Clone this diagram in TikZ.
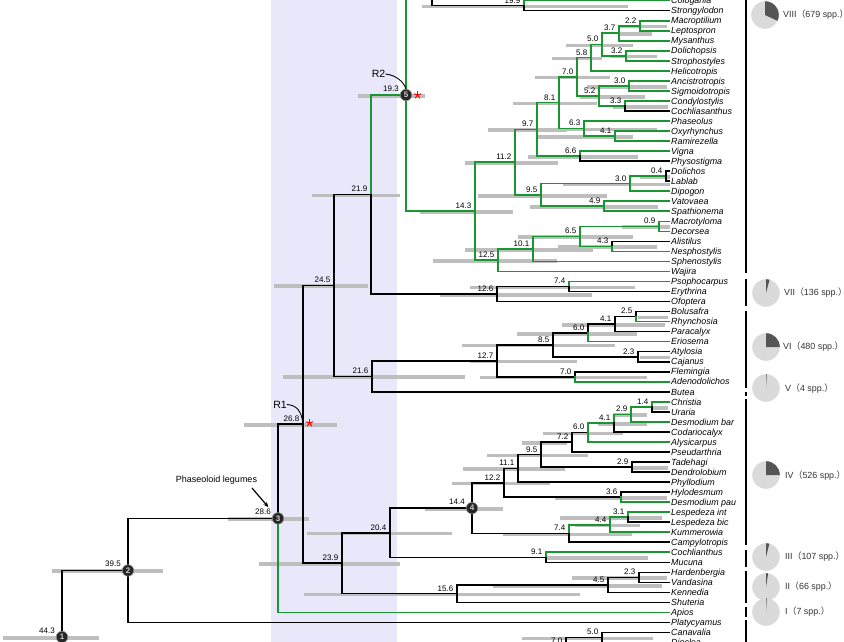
\documentclass[tikz,border=0pt]{standalone}
\usepackage{fontspec}
\setmainfont{Liberation Sans}
\newfontfamily\cjkfont{Noto Sans CJK SC}
\usetikzlibrary{arrows.meta}
\definecolor{gbr}{RGB}{25,150,50}
\definecolor{barg}{RGB}{190,190,190}
\definecolor{bandc}{RGB}{232,232,250}
\definecolor{pielight}{RGB}{218,218,218}
\definecolor{piedark}{RGB}{85,85,85}
\newcommand{\tyy}[1]{20.7+10.03*(#1)}
\newcommand{\tipnode}[3]{\coordinate (t#1) at (669,{\tyy{#2}});\node[tip] (l#1) at (671,{\tyy{#2}}) {#3};}
\newcommand{\inode}[3]{\coordinate (#1) at (#2,{\tyy{#3}});}
\newcommand{\eb}[2]{\draw[bk] (#1) |- (#2);}
\newcommand{\eg}[2]{\draw[gn] (#1) |- (#2);}
\newcommand{\cib}[3]{\draw[cibar] (#1,#3) -- (#2,#3);}
\newcommand{\mypie}[4]{%
  \coordinate (#1) at (#2,#3);
  \fill[pielight] (#1) circle[radius=13.8];
  \fill[piedark] (#1) -- ++(-90:13.8) arc[start angle=-90, delta angle=#4, radius=13.8] -- cycle;}
\begin{document}
\begin{tikzpicture}[x=1pt,y=-1pt,
  bk/.style={line width=1.6pt,black,line cap=rect},
  gn/.style={line width=1.6pt,gbr,line cap=rect},
  cibar/.style={line width=3.6pt,barg},
  tip/.style={anchor=base west,inner sep=0pt,yshift=-3.2pt,font=\fontsize{8.9}{10}\selectfont\itshape},
  age/.style={anchor=base east,inner sep=0pt,xshift=-3.5pt,yshift=2.6pt,font=\fontsize{8}{9}\selectfont},
  agec/.style={anchor=base east,inner sep=0pt,xshift=-7pt,yshift=3.8pt,font=\fontsize{8}{9}\selectfont},
  circ/.style={circle,fill=black!85,draw=black!45,line width=0.6pt,minimum size=11.5pt,inner sep=0pt,text=white!80!black,font=\fontsize{8}{8}\selectfont\bfseries},
  pielab/.style={anchor=west,inner sep=0pt,text=black!80,font=\fontsize{8.9}{10}\selectfont},
  brk/.style={line width=1.6pt,black},
  stl/.style={red,line width=1pt},
  ]
\useasboundingbox (0,0) rectangle (844,641);
\clip (0,0) rectangle (844,641);
% shaded band
\fill[bandc] (271,-5) rectangle (397,650);

% ---- tips ----
\tipnode{Cologania}{-2}{Cologania}
\tipnode{Strongylodon}{-1}{Strongylodon}
\tipnode{Macroptilium}{0}{Macroptilium}
\tipnode{Leptospron}{1}{Leptospron}
\tipnode{Mysanthus}{2}{Mysanthus}
\tipnode{Dolichopsis}{3}{Dolichopsis}
\tipnode{Strophostyles}{4}{Strophostyles}
\tipnode{Helicotropis}{5}{Helicotropis}
\tipnode{Ancistrotropis}{6}{Ancistrotropis}
\tipnode{Sigmoidotropis}{7}{Sigmoidotropis}
\tipnode{Condylostylis}{8}{Condylostylis}
\tipnode{Cochliasanthus}{9}{Cochliasanthus}
\tipnode{Phaseolus}{10}{Phaseolus}
\tipnode{Oxyrhynchus}{11}{Oxyrhynchus}
\tipnode{Ramirezella}{12}{Ramirezella}
\tipnode{Vigna}{13}{Vigna}
\tipnode{Physostigma}{14}{Physostigma}
\tipnode{Dolichos}{15}{Dolichos}
\tipnode{Lablab}{16}{Lablab}
\tipnode{Dipogon}{17}{Dipogon}
\tipnode{Vatovaea}{18}{Vatovaea}
\tipnode{Spathionema}{19}{Spathionema}
\tipnode{Macrotyloma}{20}{Macrotyloma}
\tipnode{Decorsea}{21}{Decorsea}
\tipnode{Alistilus}{22}{Alistilus}
\tipnode{Nesphostylis}{23}{Nesphostylis}
\tipnode{Sphenostylis}{24}{Sphenostylis}
\tipnode{Wajira}{25}{Wajira}
\tipnode{Psophocarpus}{26}{Psophocarpus}
\tipnode{Erythrina}{27}{Erythrina}
\tipnode{Ofoptera}{28}{Ofoptera}
\tipnode{Bolusafra}{29}{Bolusafra}
\tipnode{Rhynchosia}{30}{Rhynchosia}
\tipnode{Paracalyx}{31}{Paracalyx}
\tipnode{Eriosema}{32}{Eriosema}
\tipnode{Atylosia}{33}{Atylosia}
\tipnode{Cajanus}{34}{Cajanus}
\tipnode{Flemingia}{35}{Flemingia}
\tipnode{Adenodolichos}{36}{Adenodolichos}
\tipnode{Butea}{37}{Butea}
\tipnode{Christia}{38}{Christia}
\tipnode{Uraria}{39}{Uraria}
\tipnode{DesmodiumBar}{40}{Desmodium bar}
\tipnode{Codariocalyx}{41}{Codariocalyx}
\tipnode{Alysicarpus}{42}{Alysicarpus}
\tipnode{Pseudarthria}{43}{Pseudarthria}
\tipnode{Tadehagi}{44}{Tadehagi}
\tipnode{Dendrolobium}{45}{Dendrolobium}
\tipnode{Phyllodium}{46}{Phyllodium}
\tipnode{Hylodesmum}{47}{Hylodesmum}
\tipnode{DesmodiumPau}{48}{Desmodium pau}
\tipnode{LespedezaInt}{49}{Lespedeza int}
\tipnode{LespedezaBic}{50}{Lespedeza bic}
\tipnode{Kummerowia}{51}{Kummerowia}
\tipnode{Campylotropis}{52}{Campylotropis}
\tipnode{Cochlianthus}{53}{Cochlianthus}
\tipnode{Mucuna}{54}{Mucuna}
\tipnode{Hardenbergia}{55}{Hardenbergia}
\tipnode{Vandasina}{56}{Vandasina}
\tipnode{Kennedia}{57}{Kennedia}
\tipnode{Shuteria}{58}{Shuteria}
\tipnode{Apios}{59}{Apios}
\tipnode{Platycyamus}{60}{Platycyamus}
\tipnode{Canavalia}{61}{Canavalia}
\tipnode{Dioclea}{62}{Dioclea}

% ---- internal nodes ----
\inode{n109}{524}{-1.5}
\coordinate (TopA) at (432,-21);
\coordinate (N5) at (406,95);
\inode{n22}{640}{0.5}
\inode{n37}{619}{1.25}
\inode{n32}{626}{3.5}
\inode{n50}{602}{2.375}
\inode{n58}{591}{3.6875}
\inode{n30a}{629}{6.5}
\inode{n33}{625}{8.5}
\inode{n52}{599}{7.5}
\inode{n70}{577}{5.59375}
\inode{n41a}{615}{11.5}
\inode{n63}{584}{10.75}
\inode{n81}{559}{8.171875}
\inode{n66}{580}{13.5}
\inode{n97}{537}{10.8359}
\inode{n04}{666}{15.5}
\inode{n30b}{630}{16.25}
\inode{n49}{604}{18.5}
\inode{n95a}{541}{17.375}
\inode{n112}{515}{14.1055}
\inode{n09}{659}{20.5}
\inode{n43}{612}{22.5}
\inode{n65}{580}{21.5}
\inode{n101}{533}{22.75}
\inode{n125}{498}{23.875}
\inode{n143}{475}{18.99}
\inode{n74}{569}{26.5}
\inode{n126}{497}{27.25}
\inode{n219}{371}{17.33}
\inode{n25}{636}{29.5}
\inode{n41b}{615}{30.25}
\inode{n60b}{588}{31.125}
\inode{n23b}{638}{33.5}
\inode{n85}{553}{32.3125}
\inode{n70b}{575}{35.5}
\inode{n127}{497}{33.906}
\inode{n216}{372}{35.453}
\inode{n245}{334}{26.39}
\inode{n14}{652}{38.5}
\inode{n29a}{631}{39.25}
\inode{n41c}{614}{40.125}
\inode{n60c}{588}{41.0625}
\inode{n72}{572}{42.03}
\inode{n29b}{632}{44.5}
\inode{n95b}{541}{43.266}
\inode{n111}{518}{44.633}
\inode{n36}{621}{47.5}
\inode{n122}{504}{46.066}
\inode{n31}{628}{49.5}
\inode{n44}{610}{50.25}
\inode{n74b}{569}{51.125}
\inode{N4}{472}{48.596}
\inode{n91}{546}{53.5}
\inode{n204}{390}{51.048}
\inode{n23c}{639}{55.5}
\inode{n45}{608}{56.25}
\inode{n156}{457}{57.125}
\inode{n239}{342}{54.086}
\inode{R1}{303}{40.238}
\inode{N3}{278}{49.619}
\inode{N2}{128}{54.81}
\coordinate (N1) at (62,637);
\coordinate (Nbelow) at (62,720);
\inode{n50c}{602}{61.5}
\coordinate (n70c) at (566,646);

% ---- confidence bars ----
\cib{422}{628}{6.5}
\cib{358}{425}{96}
\cib{620}{667}{26.5}
\cib{620}{652}{34}
\cib{566}{633}{45.3}
\cib{610}{657}{56.6}
\cib{552}{602}{58.5}
\cib{535}{610}{77.6}
\cib{587}{667}{86.7}
\cib{580}{645}{96.7}
\cib{513}{597}{103.5}
\cib{613}{668}{106.8}
\cib{488}{567}{130.2}
\cib{560}{657}{129.3}
\cib{538}{633}{136.8}
\cib{528}{638}{156.9}
\cib{465}{558}{163}
\cib{640}{670}{177}
\cib{563}{670}{184.5}
\cib{478}{607}{195.8}
\cib{312}{400}{195.3}
\cib{530}{658}{207.1}
\cib{420}{513}{212}
\cib{622}{670}{227.1}
\cib{518}{633}{237.1}
\cib{558}{657}{247.2}
\cib{465}{593}{249.7}
\cib{433}{557}{261}
\cib{470}{635}{287.3}
\cib{440}{592}{294.8}
\cib{274}{368}{286.2}
\cib{638}{668}{317.4}
\cib{562}{665}{324.9}
\cib{517}{637}{333.7}
\cib{462}{615}{345.6}
\cib{640}{670}{357.5}
\cib{470}{577}{361.6}
\cib{480}{647}{377.6}
\cib{283}{465}{377.1}
\cib{653}{668}{407.7}
\cib{613}{647}{415.2}
\cib{598}{647}{424}
\cib{543}{623}{433.4}
\cib{522}{567}{443.1}
\cib{487}{588}{455.5}
\cib{632}{668}{467.8}
\cib{463}{565}{469.2}
\cib{452}{550}{483.5}
\cib{555}{667}{497.9}
\cib{425}{503}{509}
\cib{560}{662}{518}
\cib{575}{640}{525.5}
\cib{503}{632}{534.3}
\cib{307}{452}{533.5}
\cib{547}{648}{558.1}
\cib{259}{400}{564}
\cib{572}{667}{578.2}
\cib{493}{662}{585.7}
\cib{304}{580}{594.5}
\cib{228}{309}{519.2}
\cib{244}{337}{425.1}
\cib{52}{163}{571.2}
\cib{3}{99}{638}
\cib{522}{653}{638.3}

% ---- branches ----
\eg{N5}{TopA}
\eb{TopA}{n109}
\eg{n109}{tCologania}
\eb{n109}{tStrongylodon}
\eg{N5}{n143}
\eg{n143}{n112}
\eg{n143}{n125}
\eg{n112}{n97}
\eg{n112}{n95a}
\eg{n97}{n81}
\eg{n97}{n66}
\eg{n81}{n70}
\eg{n81}{n63}
\eg{n70}{n58}
\eg{n70}{n52}
\eg{n58}{n50}
\eg{n58}{tHelicotropis}
\eg{n50}{n37}
\eg{n50}{n32}
\eg{n37}{n22}
\eg{n37}{tMysanthus}
\eg{n22}{tMacroptilium}
\eg{n22}{tLeptospron}
\eg{n32}{tDolichopsis}
\eg{n32}{tStrophostyles}
\eg{n52}{n30a}
\eg{n52}{n33}
\eg{n30a}{tAncistrotropis}
\eg{n30a}{tSigmoidotropis}
\eg{n33}{tCondylostylis}
\eb{n33}{tCochliasanthus}
\eg{n63}{tPhaseolus}
\eg{n63}{n41a}
\eg{n41a}{tOxyrhynchus}
\eg{n41a}{tRamirezella}
\eg{n66}{tVigna}
\eb{n66}{tPhysostigma}
\eg{n95a}{n30b}
\eg{n95a}{n49}
\eg{n30b}{n04}
\eg{n30b}{tDipogon}
\eb{n04}{tDolichos}
\eb{n04}{tLablab}
\eg{n49}{tVatovaea}
\eg{n49}{tSpathionema}
\eg{n125}{n101}
\eg{n125}{tWajira}
\eg{n101}{n65}
\eg{n101}{tSphenostylis}
\eg{n65}{n09}
\eg{n65}{n43}
\eg{n09}{tMacrotyloma}
\eg{n09}{tDecorsea}
\eb{n43}{tAlistilus}
\eg{n43}{tNesphostylis}
\eg{n219}{N5}
\eb{n219}{n126}
\eb{n126}{n74}
\eb{n126}{tOfoptera}
\eg{n74}{tPsophocarpus}
\eb{n74}{tErythrina}
\eb{n245}{n219}
\eb{n245}{n216}
\eb{n216}{n127}
\eb{n216}{tButea}
\eb{n127}{n85}
\eb{n127}{n70b}
\eb{n85}{n60b}
\eb{n85}{n23b}
\eb{n60b}{n41b}
\eg{n60b}{tEriosema}
\eb{n41b}{n25}
\eb{n41b}{tParacalyx}
\eb{n25}{tBolusafra}
\eg{n25}{tRhynchosia}
\eb{n23b}{tAtylosia}
\eb{n23b}{tCajanus}
\eb{n70b}{tFlemingia}
\eg{n70b}{tAdenodolichos}
\eb{R1}{n245}
\eb{R1}{n239}
\eb{n239}{n204}
\eb{n239}{n156}
\eb{n204}{N4}
\eb{n204}{n91}
\eg{n91}{tCochlianthus}
\eb{n91}{tMucuna}
\eb{N4}{n122}
\eb{N4}{n74b}
\eb{n122}{n111}
\eb{n122}{n36}
\eb{n36}{tHylodesmum}
\eg{n36}{tDesmodiumPau}
\eb{n111}{n95b}
\eb{n111}{tPhyllodium}
\eb{n95b}{n72}
\eb{n95b}{n29b}
\eb{n29b}{tTadehagi}
\eb{n29b}{tDendrolobium}
\eb{n72}{n60c}
\eb{n72}{tPseudarthria}
\eg{n60c}{n41c}
\eg{n60c}{tAlysicarpus}
\eg{n41c}{n29a}
\eb{n41c}{tCodariocalyx}
\eg{n29a}{n14}
\eg{n29a}{tDesmodiumBar}
\eg{n14}{tChristia}
\eb{n14}{tUraria}
\eg{n74b}{n44}
\eb{n74b}{tCampylotropis}
\eg{n44}{n31}
\eg{n44}{tKummerowia}
\eg{n31}{tLespedezaInt}
\eb{n31}{tLespedezaBic}
\eb{n156}{n45}
\eb{n156}{tShuteria}
\eb{n45}{n23c}
\eb{n45}{tKennedia}
\eb{n23c}{tHardenbergia}
\eb{n23c}{tVandasina}
\eb{N3}{R1}
\eg{N3}{tApios}
\eb{N2}{N3}
\eb{N2}{tPlatycyamus}
\eb{N1}{N2}
\eb{N1}{Nbelow}
\eb{n70c}{n50c}
\eb{n50c}{tCanavalia}
\eb{n50c}{tDioclea}

% ---- numbered circles ----
\node[circ] (c1) at (N1) {1};
\node[circ] (c2) at (N2) {2};
\node[circ] (c3) at (N3) {3};
\node[circ] (c4) at (N4) {4};
\node[circ] (c5) at (N5) {5};

% ---- age labels ----
\foreach \n/\t in {n109/19.9,n22/2.2,n37/3.7,n32/3.2,n50/5.0,n58/5.8,n30a/3.0,n33/3.3,n52/5.2,n70/7.0,n41a/4.1,n63/6.3,n81/8.1,n66/6.6,n97/9.7,n04/0.4,n30b/3.0,n49/4.9,n95a/9.5,n112/11.2,n09/0.9,n43/4.3,n65/6.5,n101/10.1,n125/12.5,n143/14.3,n74/7.4,n126/12.6,n219/21.9,n25/2.5,n41b/4.1,n60b/6.0,n23b/2.3,n85/8.5,n70b/7.0,n127/12.7,n216/21.6,n245/24.5,n14/1.4,n29a/2.9,n41c/4.1,n60c/6.0,n72/7.2,n29b/2.9,n95b/9.5,n111/11.1,n36/3.6,n122/12.2,n31/3.1,n44/4.4,n74b/7.4,n91/9.1,n204/20.4,n23c/2.3,n45/4.5,n156/15.6,n239/23.9,R1/26.8,n50c/5.0,n70c/7.0}
  \node[age] (a\n) at (\n) {\t};
\foreach \n/\t in {N1/44.3,N2/39.5,N3/28.6,N4/14.4,N5/19.3}
  \node[agec] (a\n) at (\n) {\t};

% ---- R labels and stars ----
\node[font=\fontsize{10.5}{11}\selectfont,inner sep=0pt] (r1txt) at (280,404.5) {R1};
\draw[line width=0.9pt] (r1txt.east) .. controls (297,405) and (302,412) .. (R1);
\node[font=\fontsize{10.5}{11}\selectfont,inner sep=0pt] (r2txt) at (378.5,74) {R2};
\draw[line width=0.9pt] (r2txt.east) .. controls (396,75) and (404,82) .. ([yshift=6pt]N5);
\coordinate (s1) at (309.5,423);
\coordinate (s2) at (417.5,95);
\foreach \a in {-90,-18,54,126,198} {\draw[stl] (s1) -- ++(\a:4); \draw[stl] (s2) -- ++(\a:4);}

% ---- Phaseoloid legumes ----
\node[font=\fontsize{9}{10}\selectfont,inner sep=0pt] (phl) at (216.5,480) {Phaseoloid legumes};
\coordinate (phA) at (252,488);
\draw[line width=1.2pt,-{Stealth[length=5pt,width=4.5pt]},shorten >=15pt] (phA) -- (N3);

% ---- clade brackets ----
\draw[brk] (746,-5) -- (746,273);
\draw[brk] (746,279) -- (746,306);
\draw[brk] (746,311) -- (746,388);
\draw[brk] (746,391.5) -- (746,396);
\draw[brk] (746,399) -- (746,545);
\draw[brk] (746,550) -- (746,567);
\draw[brk] (746,571) -- (746,603);
\draw[brk] (746,607) -- (746,617);
\draw[brk] (746,620) -- (746,650);

% ---- pies ----
\mypie{p8}{765}{15}{115}
\mypie{p7}{766}{293}{15}
\mypie{p6}{766}{347}{90}
\mypie{p5}{766}{388}{3}
\mypie{p4}{766}{475}{90}
\mypie{p3}{766}{557}{14}
\mypie{p2}{766}{587}{9}
\mypie{p1}{766}{612}{3}
\node[pielab] (q8) at (783,15) {VIII{\cjkfont（}679 spp.{\cjkfont）}};
\node[pielab] (q7) at (784,293) {VII{\cjkfont（}136 spp.{\cjkfont）}};
\node[pielab] (q6) at (783,347) {VI{\cjkfont（}480 spp.{\cjkfont）}};
\node[pielab] (q5) at (785,389) {V{\cjkfont（}4 spp.{\cjkfont）}};
\node[pielab] (q4) at (785,476) {IV{\cjkfont（}526 spp.{\cjkfont）}};
\node[pielab] (q3) at (785,557) {III{\cjkfont（}107 spp.{\cjkfont）}};
\node[pielab] (q2) at (785,587) {II{\cjkfont（}66 spp.{\cjkfont）}};
\node[pielab] (q1) at (785,612) {I{\cjkfont（}7 spp.{\cjkfont）}};
\end{tikzpicture}
\end{document}
